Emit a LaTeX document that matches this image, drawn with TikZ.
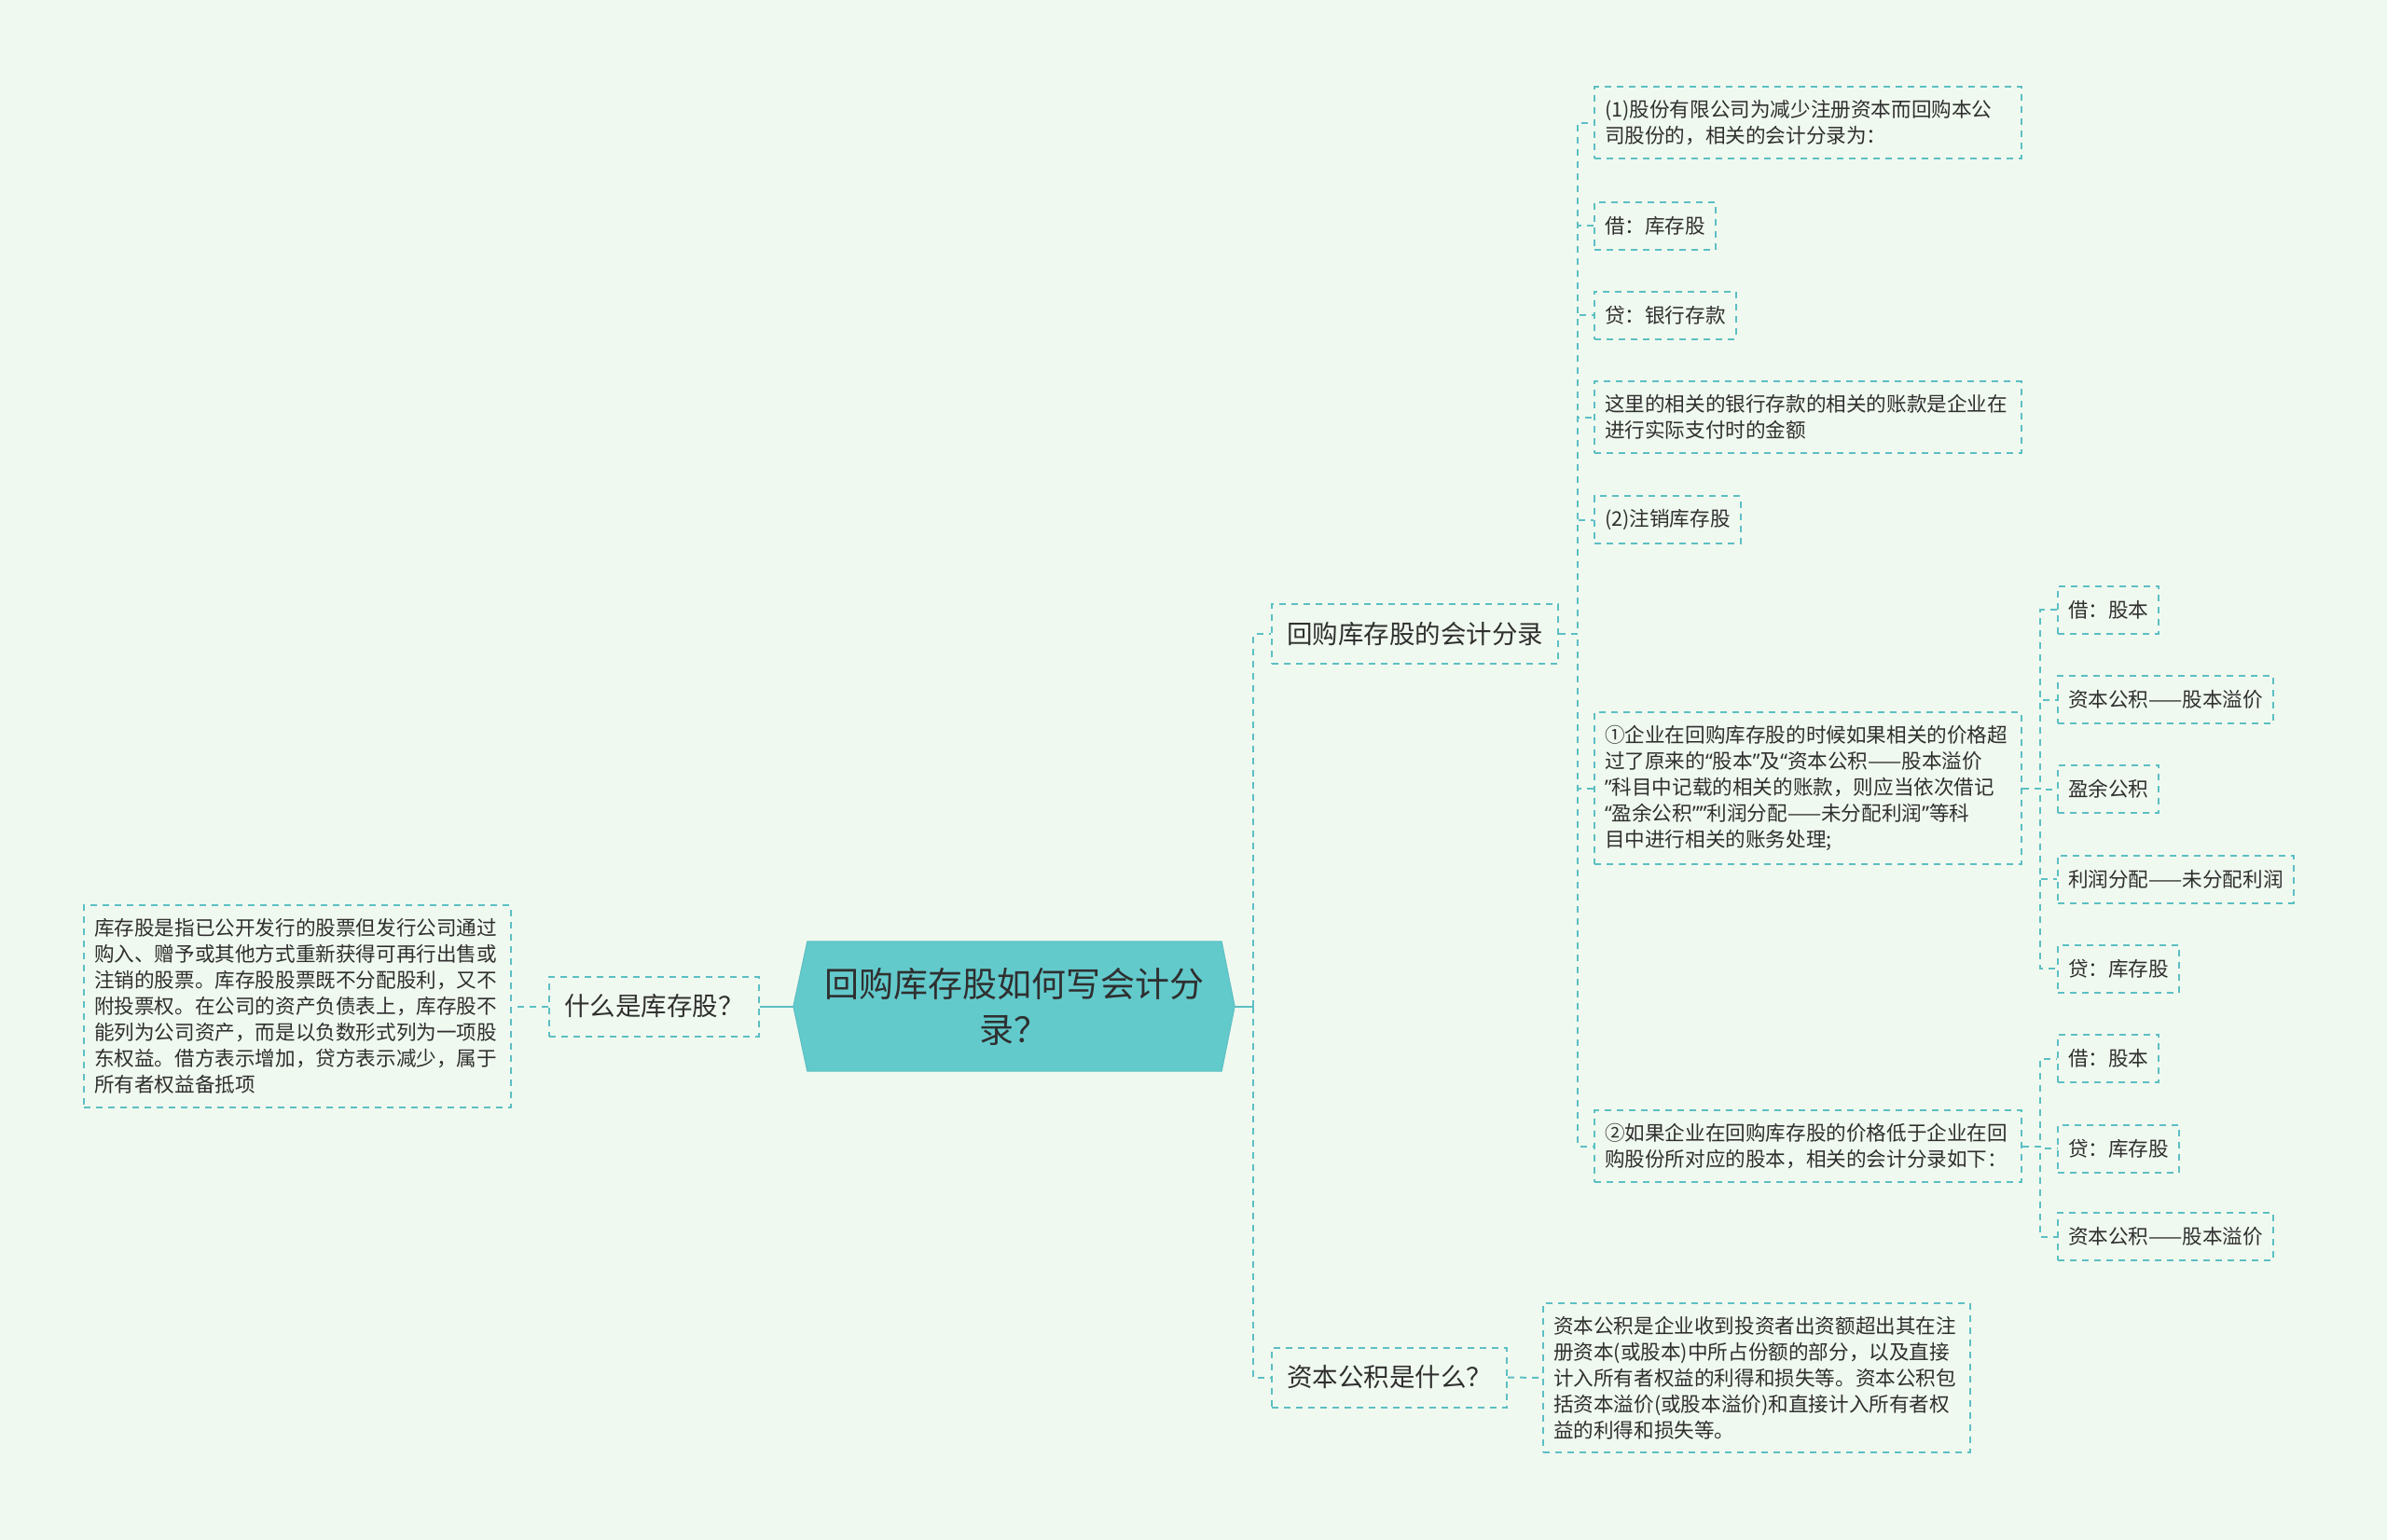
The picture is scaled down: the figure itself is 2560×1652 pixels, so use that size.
\documentclass[tikz,border=0pt]{standalone}
\usepackage{fontspec}
\setmainfont{Noto Sans CJK SC}
\newfontfamily\quotefont{Noto Sans}
\usetikzlibrary{positioning, backgrounds}
\definecolor{mintbg}{HTML}{F0F9EF}
\definecolor{mapline}{HTML}{5CBFC4}
\definecolor{rootfill}{HTML}{63CACC}
\definecolor{mapink}{HTML}{2F2F2F}
\newcommand{\openq}{{\quotefont “}}
\newcommand{\closeq}{{\quotefont ”}}
\tikzset{
  leaf/.style={draw=mapline, dash pattern=on 7pt off 6pt, line width=2pt, text=mapink, anchor=west,
    inner xsep=11pt, minimum height=51pt, font=\fontsize{21.6pt}{28pt}\selectfont},
  note/.style={leaf, text width=436pt, align=left, inner ysep=14pt},
  branch/.style={leaf, inner xsep=16pt, minimum height=64pt, font=\fontsize{27.5pt}{34pt}\selectfont},
  link/.style={draw=mapline, dash pattern=on 7pt off 6pt, line width=2pt},
  stem/.style={draw=mapline, line width=2pt}
}
\begin{document}
\begin{tikzpicture}[x=1pt, y=-1pt]
	\begin{scope}[on background layer]
		\fill[mintbg] (0,0) rectangle (2560,1652);
	\end{scope}
	\useasboundingbox (0,0) rectangle (2560,1652);
	% centre
	\node[text=mapink, align=center, minimum width=473pt, minimum height=139pt, font=\fontsize{37pt}{49pt}\selectfont] (root) at (1087.5,1079.5) {回购库存股如何写会计分\\录？};
	\begin{scope}[on background layer]
		\filldraw[fill=rootfill, draw=mapline, line width=1pt] (root.west) -- ([xshift=15pt]root.north west) -- ([xshift=-14pt]root.north east) -- (root.east) -- ([xshift=-14pt]root.south east) -- ([xshift=15pt]root.south west) -- cycle;
	\end{scope}
	% left side
	\node[branch] (what) at (588,1079.5) {什么是库存股？};
	\node[note, anchor=east] (whatnote) at (549,1079.5) {库存股是指已公开发行的股票但发行公司通过\\购入、赠予或其他方式重新获得可再行出售或\\注销的股票。库存股股票既不分配股利，又不\\附投票权。在公司的资产负债表上，库存股不\\能列为公司资产，而是以负数形式列为一项股\\东权益。借方表示增加，贷方表示减少，属于\\所有者权益备抵项};
	% right side
	\node[branch] (rec) at (1363,680) {回购库存股的会计分录};
	\node[branch] (cap) at (1363,1477.5) {资本公积是什么？};
	\node[note] (capnote) at (1654,1478) {资本公积是企业收到投资者出资额超出其在注\\册资本(或股本)中所占份额的部分，以及直接\\计入所有者权益的利得和损失等。资本公积包\\括资本溢价(或股本溢价)和直接计入所有者权\\益的利得和损失等。};
	\node[note] (d1) at (1709,131.5) {(1)股份有限公司为减少注册资本而回购本公\\司股份的，相关的会计分录为：};
	\node[leaf] (d2) at (1709,242) {借：库存股};
	\node[leaf] (d3) at (1709,338) {贷：银行存款};
	\node[note] (d4) at (1709,447.5) {这里的相关的银行存款的相关的账款是企业在\\进行实际支付时的金额};
	\node[leaf] (d5) at (1709,557.5) {(2)注销库存股};
	\node[note] (d6) at (1709,845.5) {①企业在回购库存股的时候如果相关的价格超\\过了原来的\openq 股本\closeq 及\openq 资本公积——股本溢价\\\closeq 科目中记载的相关的账款，则应当依次借记\\\openq 盈余公积\closeq\closeq 利润分配——未分配利润\closeq 等科\\目中进行相关的账务处理;};
	\node[note] (d7) at (1709,1229.5) {②如果企业在回购库存股的价格低于企业在回\\购股份所对应的股本，相关的会计分录如下：};
	\node[leaf] (e1) at (2206,654) {借：股本};
	\node[leaf] (e2) at (2206,750.5) {资本公积——股本溢价};
	\node[leaf] (e3) at (2206,846.5) {盈余公积};
	\node[leaf] (e4) at (2206,943) {利润分配——未分配利润};
	\node[leaf] (e5) at (2206,1039) {贷：库存股};
	\node[leaf] (f1) at (2206,1135.5) {借：股本};
	\node[leaf] (f2) at (2206,1232) {贷：库存股};
	\node[leaf] (f3) at (2206,1326.5) {资本公积——股本溢价};
	% connectors
	\draw[stem] (root.west) -- (what.east);
	\draw[link] (what.west) -- (whatnote.east);
	\coordinate (t0) at ([xshift=20pt]root.east);
	\draw[stem] (root.east) -- (t0);
	\draw[link] (t0) |- (rec.west);
	\draw[link] (t0) |- (cap.west);
	\draw[link] (cap.east) -- (capnote.west);
	\coordinate (t1) at ([xshift=20pt]rec.east);
	\draw[link] (rec.east) -- (t1) |- (d1.west);
	\draw[link] (rec.east) -- (t1) |- (d2.west);
	\draw[link] (rec.east) -- (t1) |- (d3.west);
	\draw[link] (rec.east) -- (t1) |- (d4.west);
	\draw[link] (rec.east) -- (t1) |- (d5.west);
	\draw[link] (rec.east) -- (t1) |- (d6.west);
	\draw[link] (rec.east) -- (t1) |- (d7.west);
	\coordinate (t2) at ([xshift=19pt]d6.east);
	\draw[link] (d6.east) -- (t2) |- (e1.west);
	\draw[link] (d6.east) -- (t2) |- (e2.west);
	\draw[link] (d6.east) -- (t2) |- (e3.west);
	\draw[link] (d6.east) -- (t2) |- (e4.west);
	\draw[link] (d6.east) -- (t2) |- (e5.west);
	\coordinate (t3) at ([xshift=19pt]d7.east);
	\draw[link] (d7.east) -- (t3) |- (f1.west);
	\draw[link] (d7.east) -- (t3) |- (f2.west);
	\draw[link] (d7.east) -- (t3) |- (f3.west);
\end{tikzpicture}
\end{document}
